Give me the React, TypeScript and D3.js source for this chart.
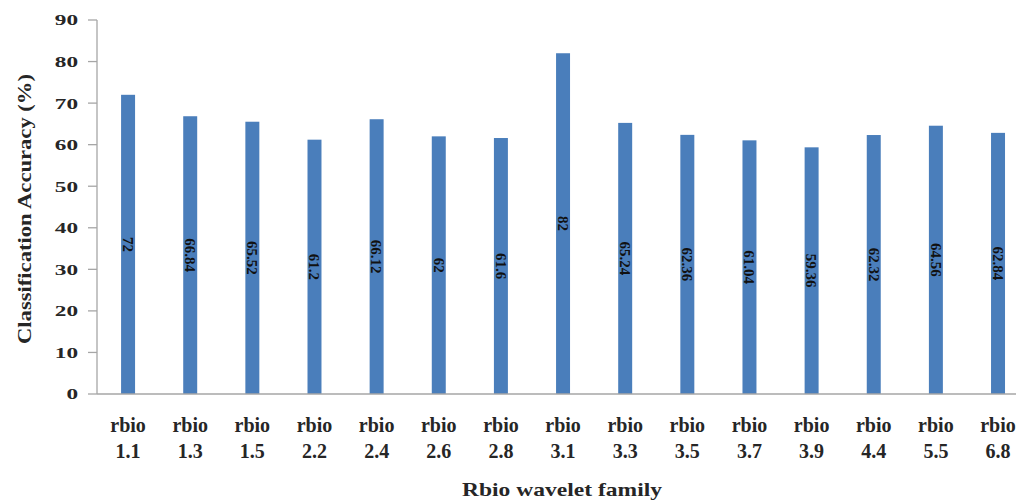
import React from "react";
import * as d3 from "d3";

const categories = ["1.1", "1.3", "1.5", "2.2", "2.4", "2.6", "2.8", "3.1", "3.3", "3.5", "3.7", "3.9", "4.4", "5.5", "6.8"];
const values = [72, 66.84, 65.52, 61.2, 66.12, 62, 61.6, 82, 65.24, 62.36, 61.04, 59.36, 62.32, 64.56, 62.84];
const yTicks = [0, 10, 20, 30, 40, 50, 60, 70, 80, 90];

const W = 1016, H = 504;
const left = 97, top = 20, bottom = 394;
const band = 62.14;

export default function App() {
  const x = d3.scaleBand<string>().domain(categories).range([left, left + band * categories.length]).paddingInner(0.775).paddingOuter(0.3875);
  const y = d3.scaleLinear().domain([0, 90]).range([bottom, top]);
  const font = "'Liberation Serif', 'Times New Roman', serif";
  const axisColor = "#a6a6a6";
  return (
    <svg width={W} height={H} style={{ position: "fixed", left: 0, top: 0, background: "#fff" }} fontFamily={font}>
      <rect width={W} height={H} fill="#fff" />
      {/* y axis */}
      <line x1={left} x2={left} y1={top} y2={bottom} stroke={axisColor} strokeWidth={1.3} />
      {yTicks.map((t) => (
        <g key={t}>
          <line x1={left - 9} x2={left} y1={y(t)} y2={y(t)} stroke={axisColor} strokeWidth={1.3} />
          <text transform={`translate(78,${y(t)}) scale(1.5,1)`} dy="0.35em" textAnchor="end" fontSize={15.5} fontWeight="bold" fill="#262626">{t}</text>
        </g>
      ))}
      {/* bars */}
      {categories.map((c, i) => {
        const bx = x(c)!;
        const bw = x.bandwidth();
        const v = values[i];
        const cx = bx + bw / 2;
        const cy = (y(v) + y(0)) / 2;
        return (
          <g key={c}>
            <rect x={bx} y={y(v)} width={bw} height={y(0) - y(v)} fill="#4A7EBB" />
            <text transform={`translate(${cx},${cy}) rotate(90)`} textAnchor="middle" dy="0.35em" fontSize={15} fontWeight="bold" fill="#111">{v}</text>
            <text x={cx} y={432} textAnchor="middle" fontSize={20} fontWeight="bold" fill="#262626">rbio</text>
            <text x={cx} y={458} textAnchor="middle" fontSize={20} fontWeight="bold" fill="#262626">{c}</text>
          </g>
        );
      })}
      {/* x axis line */}
      <line x1={left} x2={W} y1={bottom} y2={bottom} stroke={axisColor} strokeWidth={1.3} />
      {/* titles */}
      <text x={562} y={496} textAnchor="middle" fontSize={19} fontWeight="bold" fill="#262626" textLength={200} lengthAdjust="spacingAndGlyphs">Rbio wavelet family</text>
      <text transform={`translate(24,209) rotate(-90)`} dy="0.35em" textAnchor="middle" fontSize={19} fontWeight="bold" fill="#262626" textLength={270} lengthAdjust="spacingAndGlyphs">Classification Accuracy (%)</text>
    </svg>
  );
}
